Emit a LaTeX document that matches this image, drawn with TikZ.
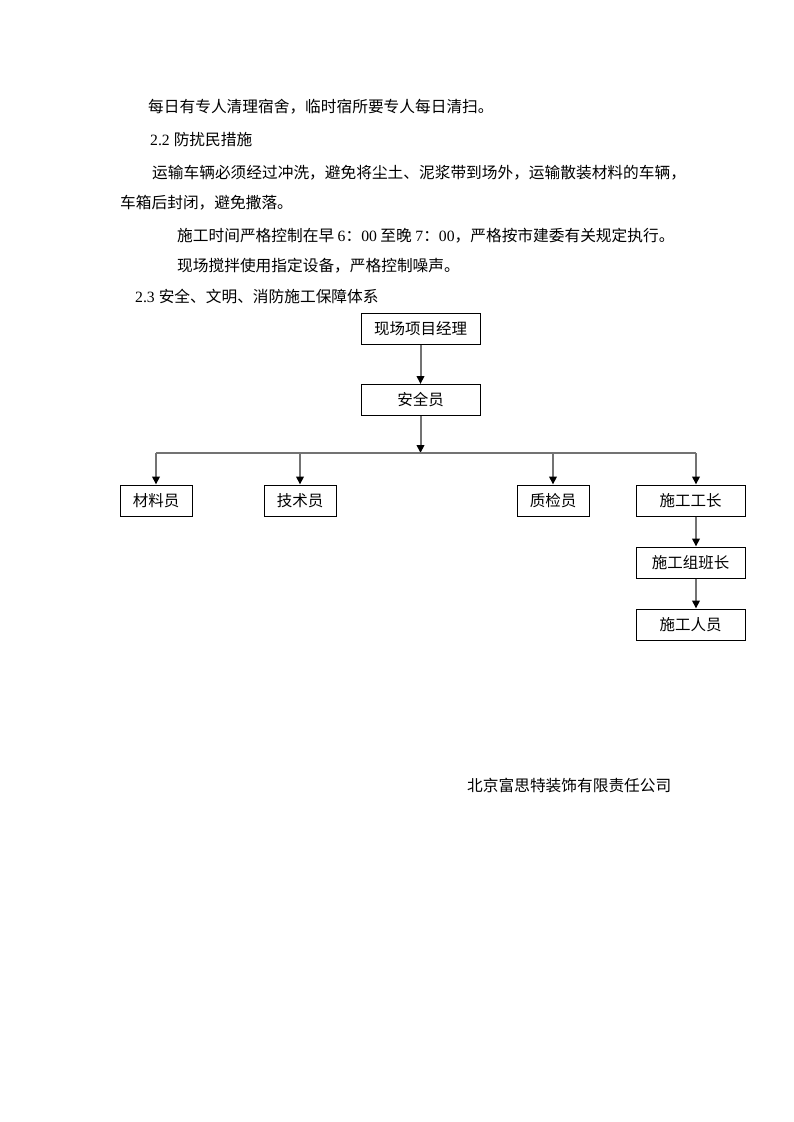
\documentclass[tikz,border=0pt]{standalone}
\usepackage{fontspec}
\setmainfont{Liberation Serif}
\newfontfamily\cjk{Noto Sans CJK SC}
\usetikzlibrary{arrows.meta}
\begin{document}
\begin{tikzpicture}[x=1pt,y=-1pt,
  txt/.style={anchor=west,inner sep=0pt,font=\fontsize{15.7}{18}\selectfont\cjk},
  box/.style={draw=black,line width=1pt,inner sep=0pt,font=\fontsize{15.5}{18}\selectfont\cjk,minimum height=31pt},
  conn/.style={draw=black!55,line width=2pt,-{Triangle[length=8pt,width=7.5pt,color=black]}},
  busline/.style={draw=black!55,line width=2pt}]
\useasboundingbox (0,0) rectangle (793,1122);
% text lines
\node[txt] (t1) at (148,107) {每日有专人清理宿舍，临时宿所要专人每日清扫。};
\node[txt] (t2) at (150,140) {{\rmfamily 2.2 }防扰民措施};
\node[txt] (t3) at (152,173) {运输车辆必须经过冲洗，避免将尘土、泥浆带到场外，运输散装材料的车辆，};
\node[txt] (t4) at (120,203) {车箱后封闭，避免撒落。};
\node[txt] (t5) at (177,236) {施工时间严格控制在早 {\rmfamily 6}：{\rmfamily 00} 至晚 {\rmfamily 7}：{\rmfamily 00}，严格按市建委有关规定执行。};
\node[txt] (t6) at (177,266) {现场搅拌使用指定设备，严格控制噪声。};
\node[txt] (t7) at (135,296) {{\rmfamily 2.3 }安全、文明、消防施工保障体系};
\node[txt] (t8) at (467,785) {北京富思特装饰有限责任公司};
% boxes
\node[box,minimum width=119pt] (pm) at (420.5,328.5) {现场项目经理};
\node[box,minimum width=119pt] (aq) at (420.5,400) {安全员};
\node[box,minimum width=72pt] (cl) at (156,500.5) {材料员};
\node[box,minimum width=72pt] (js) at (300,500.5) {技术员};
\node[box,minimum width=72pt] (zj) at (553,500.5) {质检员};
\node[box,minimum width=109pt] (sg) at (690.5,500.5) {施工工长};
\node[box,minimum width=109pt] (bz) at (690.5,562.5) {施工组班长};
\node[box,minimum width=109pt] (ry) at (690.5,624.5) {施工人员};
% bus
\coordinate (bm) at (420.5,453);
\coordinate (bl) at (156,453);
\coordinate (br) at (696,453);
% connectors
\draw[conn] (pm) -- (aq);
\draw[conn] (aq) -- (bm);
\draw[busline] (bl) -- (br);
\draw[conn] (bl) -- (cl.north);
\draw[conn] (js.north |- bm) -- (js.north);
\draw[conn] (zj.north |- bm) -- (zj.north);
\draw[conn] (br) -- (br |- sg.north);
\draw[conn] (br |- sg.south) -- (br |- bz.north);
\draw[conn] (br |- bz.south) -- (br |- ry.north);
\end{tikzpicture}
\end{document}
